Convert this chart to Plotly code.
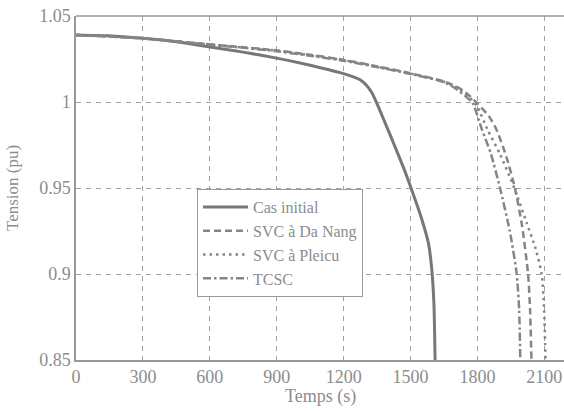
import plotly.graph_objects as go

# Cas initial
t_init = [0, 150, 300, 450, 600, 750, 900, 1000, 1100, 1184, 1240, 1274, 1300, 1326,
          1348, 1408, 1468, 1505, 1550, 1580, 1595, 1605, 1610]
v_init = [1.039, 1.0385, 1.037, 1.035, 1.032, 1.029, 1.0255, 1.0228, 1.0198, 1.0171, 1.0148,
          1.0129, 1.0100, 1.0055, 0.9995, 0.981, 0.962, 0.949, 0.932, 0.918, 0.903, 0.882, 0.85]

# SVC a Da Nang
t_danang = [0, 300, 600, 900, 1200, 1500, 1650, 1720, 1770, 1800, 1850, 1885, 1930, 1968,
            2000, 2027, 2036, 2042]
v_danang = [1.039, 1.037, 1.0335, 1.030, 1.0245, 1.0167, 1.012, 1.008, 1.003, 0.999, 0.992,
            0.984, 0.968, 0.95, 0.928, 0.9, 0.879, 0.85]

# SVC a Pleicu
t_pleicu = [0, 300, 600, 900, 1200, 1500, 1650, 1720, 1770, 1800, 1845, 1900, 1965, 2020,
            2060, 2088, 2099, 2105]
v_pleicu = [1.039, 1.037, 1.0335, 1.0298, 1.0243, 1.0165, 1.0118, 1.0075, 1.002, 0.997, 0.984,
            0.97, 0.95, 0.93, 0.915, 0.9, 0.879, 0.85]

# TCSC
t_tcsc = [0, 300, 600, 900, 1200, 1500, 1650, 1700, 1750, 1780, 1820, 1860, 1901, 1945,
          1976, 1987, 1992]
v_tcsc = [1.039, 1.037, 1.0333, 1.0295, 1.024, 1.0163, 1.0115, 1.008, 1.003, 0.999, 0.984,
          0.97, 0.95, 0.925, 0.9, 0.879, 0.85]

x_ticks = [0, 300, 600, 900, 1200, 1500, 1800, 2100]
y_ticks = [0.85, 0.9, 0.95, 1.0, 1.05]
y_labels = ["0.85", "0.9", "0.95", "1", "1.05"]

font = "Liberation Serif"
txt = "#8c8c8c"

fig = go.Figure()
fig.add_trace(go.Scatter(x=t_init, y=v_init, name="Cas initial", mode="lines",
                         line=dict(color="#777777", width=3, shape="spline", smoothing=0.5)))
fig.add_trace(go.Scatter(x=t_danang, y=v_danang, name="SVC à Da Nang", mode="lines",
                         line=dict(color="#858585", width=2.5, dash="7px,4px",
                                   shape="spline", smoothing=0.6)))
fig.add_trace(go.Scatter(x=t_pleicu, y=v_pleicu, name="SVC à Pleicu", mode="lines",
                         line=dict(color="#858585", width=2.5, dash="2.5px,4px",
                                   shape="spline", smoothing=0.6)))
fig.add_trace(go.Scatter(x=t_tcsc, y=v_tcsc, name="TCSC", mode="lines",
                         line=dict(color="#858585", width=2.5, dash="8px,3px,2.5px,3px",
                                   shape="spline", smoothing=0.6)))

fig.update_layout(
    width=564, height=411,
    margin=dict(l=76, r=0, t=16, b=51),
    paper_bgcolor="white", plot_bgcolor="white",
    font=dict(family=font, size=18, color=txt),
    showlegend=True,
    legend=dict(x=0.248, y=0.497, xanchor="left", yanchor="top",
                bgcolor="white", bordercolor="#999999", borderwidth=1,
                font=dict(family=font, size=16, color=txt),
                itemwidth=45, tracegroupgap=0),
)
fig.update_xaxes(range=[0, 2188], tickvals=x_ticks, showgrid=True, gridcolor="#a0a0a0",
                 griddash="5px,5px", gridwidth=1, zeroline=False, automargin=False,
                 showline=True, linecolor="#999999", linewidth=1.5, ticks="",
                 tickfont=dict(family=font, size=18, color=txt))
fig.update_yaxes(range=[0.85, 1.05], tickvals=y_ticks, ticktext=y_labels, showgrid=True,
                 gridcolor="#a0a0a0", griddash="5px,5px", gridwidth=1, zeroline=False,
                 automargin=False,
                 showline=True, linecolor="#999999", linewidth=1.5, ticks="",
                 tickfont=dict(family=font, size=18, color=txt))
fig.add_shape(type="line", xref="paper", yref="paper", x0=0, x1=1, y0=1, y1=1,
              line=dict(color="#999999", width=1.5))

# axis titles placed as annotations
fig.add_annotation(text="Temps (s)", xref="paper", yref="paper", x=0.5, y=-0.107,
                   xanchor="center", yanchor="middle", showarrow=False,
                   font=dict(family=font, size=18, color=txt))
fig.add_annotation(text="Tension (pu)", xref="paper", yref="paper", x=-0.131, y=0.5,
                   xanchor="center", yanchor="middle", showarrow=False, textangle=-90,
                   font=dict(family=font, size=17, color=txt))

fig.write_html("out.html", config={"displayModeBar": False},
               post_script="document.body.style.margin='0';")
